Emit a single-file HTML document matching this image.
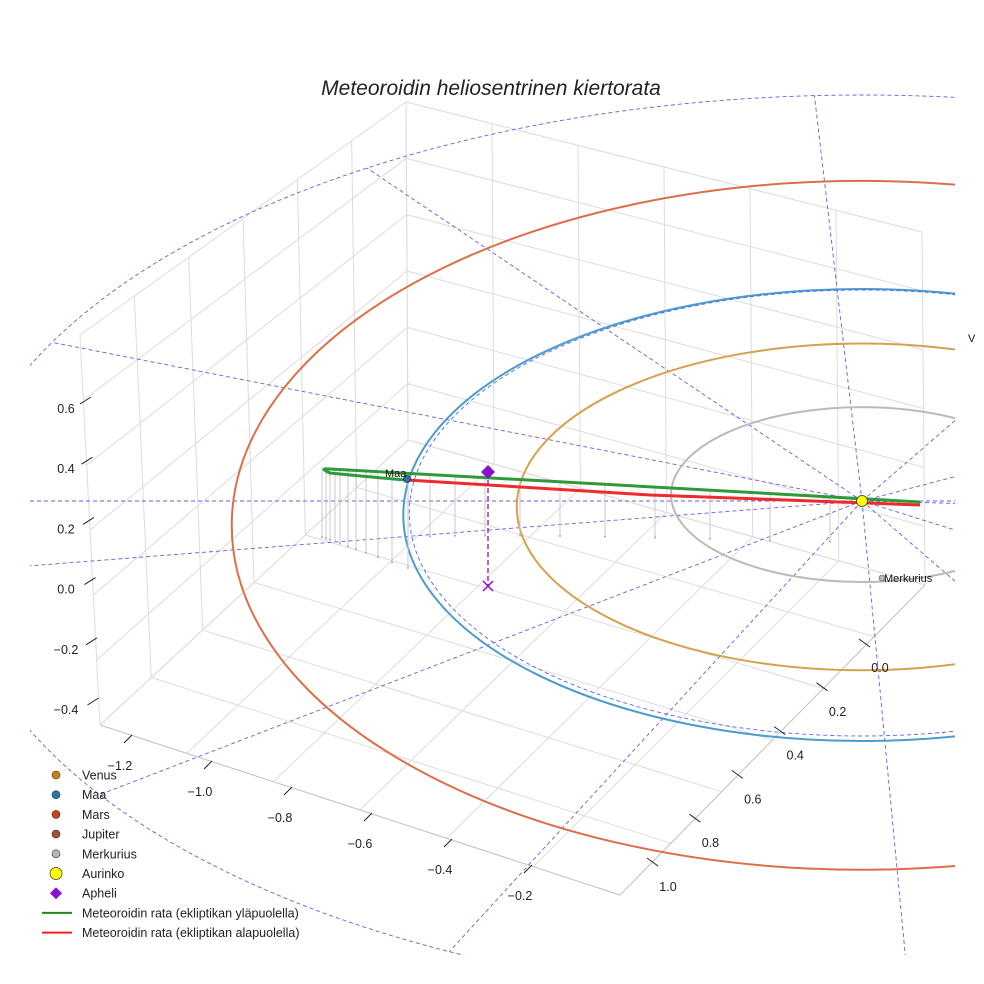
<!DOCTYPE html>
<html><head><meta charset="utf-8"><style>
body{margin:0;background:#fff}
svg{display:block;font-family:"Liberation Sans",sans-serif}
</style></head><body>
<svg id="c" width="984" height="984" viewBox="0 0 984 984">
<defs><clipPath id="clp"><rect x="30" y="90" width="925" height="865"/></clipPath></defs>
<text x="491" y="95" text-anchor="middle" font-size="21" font-style="italic" fill="#222">Meteoroidin heliosentrinen kiertorata</text>
<g id="grid"></g>
<g id="plot" clip-path="url(#clp)"></g>
<g id="ticks"></g>
<g id="legend"></g>
</svg>
<script>
const planetNames=["Merkurius","Venus","Maa","Mars"];
const planetRadii=[0.387,0.723,1.0,1.524];
const planetColors=["#c0b8b4","#d4a24c","#4a9ccc","#dd6f48"];
const zTicks=[0.6,0.4,0.2,0.0,-0.2,-0.4];
const xTicks=[-1.2,-1.0,-0.8,-0.6,-0.4,-0.2];
const yTicks=[0.0,0.2,0.4,0.6,0.8,1.0];
const legendLabels=["Venus","Maa","Mars","Jupiter","Merkurius","Aurinko","Apheli","Meteoroidin rata (ekliptikan yläpuolella)","Meteoroidin rata (ekliptikan alapuolella)"];
const dropX=[322,326,330,335,340,348,356,366,378,392,408,430,455,485,520,560,605,655,710,770,830];

const NS="http://www.w3.org/2000/svg";
function mk(parent,tag,attrs){const e=document.createElementNS(NS,tag);for(const k in attrs)e.setAttribute(k,attrs[k]);parent.appendChild(e);return e;}
const sun={x:862,y:501};
function rx(r){return 500*r/(1+0.09*r*r);}
function ry(r){return 226*r;}
function cy(r){return 477+50*r-12*r*r;}
const grid=document.getElementById('grid'),plot=document.getElementById('plot'),ticks=document.getElementById('ticks'),leg=document.getElementById('legend');

// box grid
const BB=[408,440],BT=[406,102],LB=[100,725],LT=[80,335],RB=[925,585],RT=[922,232],FB=[620,895];
function lerp(a,b,t){return [a[0]+(b[0]-a[0])*t,a[1]+(b[1]-a[1])*t];}
function gl(p,q,c){const l=mk(grid,'line',{x1:p[0],y1:p[1],x2:q[0],y2:q[1],stroke:c||'#dcdcdc','stroke-width':1});}
for(let i=0;i<=6;i++){const t=i/6;gl(lerp(BB,LB,t),lerp(BT,LT,t));gl(lerp(BB,RB,t),lerp(BT,RT,t));gl(lerp(BB,LB,t),lerp(RB,FB,t));gl(lerp(BB,RB,t),lerp(LB,FB,t));}
for(let i=0;i<=6;i++){const t=i/6;gl(lerp(LB,LT,t),lerp(BB,BT,t));gl(lerp(BB,BT,t),lerp(RB,RT,t));}
gl(LB,FB,'#c4c4c4');gl(FB,RB,'#c4c4c4');

// dashed reference ellipse and radials
const bigCx=862,bigRx=909,bigRy=453,bigCy=548;
let e=mk(plot,'ellipse',{cx:bigCx,cy:bigCy,rx:bigRx,ry:bigRy,fill:'none',stroke:'#6a5ae8','stroke-width':0.9,'stroke-dasharray':'4 3'});

for(let a=27;a<360;a+=30){const r=a*Math.PI/180;const l=mk(plot,'line',{x1:sun.x,y1:sun.y,x2:bigCx+bigRx*Math.cos(r),y2:bigCy+bigRy*Math.sin(r),stroke:'#6a5ae8','stroke-width':0.9,'stroke-dasharray':'4 3'});}
let hl=mk(plot,'line',{x1:30,y1:501,x2:955,y2:501,stroke:'#6a5ae8','stroke-width':0.9,'stroke-dasharray':'4 3'});


// planet orbits
planetRadii.forEach((r,i)=>{
 const o=mk(plot,'ellipse',{cx:sun.x,cy:cy(r),rx:rx(r),ry:ry(r),fill:'none',stroke:planetColors[i],'stroke-width':2});
 
});
let ed=mk(plot,'ellipse',{cx:sun.x,cy:cy(1)-2,rx:rx(1)-6,ry:ry(1)-3,fill:'none',stroke:'#4a6ae8','stroke-width':0.9,'stroke-dasharray':'4 3'});


// drop lines
function greenY(x){const t=(x-322)/(920-322);return 467+35*t;}
dropX.forEach((x,i)=>{const y0=greenY(x);const len=x<410?70+(x-322)*0.3:85-i*2;const l=mk(plot,'line',{x1:x,y1:y0,x2:x,y2:y0+len,stroke:'#c8c8c8','stroke-width':1});mk(plot,'circle',{cx:x,cy:y0+len,r:1,fill:'#aaa'});});

// meteoroid orbit
let g=mk(plot,'path',{d:'M920,502 L600,484 Q380,472 330,469 Q318,468 330,473 Q380,478 407,480',fill:'none',stroke:'#2e9a3a','stroke-width':3});

let rd=mk(plot,'path',{d:'M407,480 L650,495 L920,505',fill:'none',stroke:'#ee2a2a','stroke-width':3});


// aphelion
let ap=mk(plot,'line',{x1:488,y1:472,x2:488,y2:586,stroke:'#8a10c8','stroke-width':1.3,'stroke-dasharray':'5 3'});
let apd=mk(plot,'path',{d:'M488,465 L495,472 L488,479 L481,472 Z',fill:'#8a10d0'});
let ax=mk(plot,'path',{d:'M483,581 L493,591 M493,581 L483,591',stroke:'#8a10d0','stroke-width':1.5});

// bodies
let maa=mk(plot,'circle',{cx:407,cy:479,r:3.5,fill:'#1f77b4',stroke:'#222','stroke-width':0.8});
let ml=mk(plot,'text',{x:385,y:477,'font-size':11,fill:'#111'});ml.textContent='Maa';
let mer=mk(plot,'circle',{cx:882,cy:578,r:3,fill:'#bdb5b0',stroke:'#666','stroke-width':0.6});
let mel=mk(plot,'text',{x:884,y:582,'font-size':11,fill:'#111'});mel.textContent='Merkurius';
let su=mk(plot,'circle',{cx:sun.x,cy:sun.y,r:5.5,fill:'#ffff00',stroke:'#333','stroke-width':0.8});
let vl=mk(ticks,'text',{x:968,y:342,'font-size':11,fill:'#111'});vl.textContent='V';

// ticks
zTicks.forEach((v,i)=>{const y=408+(0.6-v)/0.2*60.2;const l=mk(ticks,'line',{x1:80+i*1.5,y1:y-4,x2:91+i*1.5,y2:y-11,stroke:'#222','stroke-width':1});const t=mk(ticks,'text',{x:66,y:y+5,'font-size':12.5,fill:'#222','text-anchor':'middle'});t.textContent=v.toFixed(1).replace('-','−');});
xTicks.forEach((v,i)=>{const k=(v+1.2)/0.2;const x=120+k*80,y=765+k*26;const l=mk(ticks,'line',{x1:x+4,y1:y-22,x2:x+12,y2:y-30,stroke:'#222','stroke-width':1});const t=mk(ticks,'text',{x:x,y:y+5,'font-size':12.5,fill:'#222','text-anchor':'middle'});t.textContent=v.toFixed(1).replace('-','−');});
yTicks.forEach((v,i)=>{const k=v/0.2;const x=880-k*42.4,y=667+k*43.8;const l=mk(ticks,'line',{x1:x-21,y1:y-28,x2:x-10,y2:y-20,stroke:'#222','stroke-width':1});const t=mk(ticks,'text',{x:x,y:y+5,'font-size':12.5,fill:'#222','text-anchor':'middle'});t.textContent=v.toFixed(1);});

// legend
const legMark=[['c','#c87f0e'],['c','#1f77b4'],['c','#c8441a'],['c','#a0522d'],['c','#bdb5b0'],['sun','#ffff00'],['d','#8a10d0'],['l','#1a8a1a'],['l','#ee2020']];
legendLabels.forEach((s,i)=>{const y=775+i*19.7;const m=legMark[i];let el;
 if(m[0]=='c')el=mk(leg,'circle',{cx:56,cy:y,r:4,fill:m[1],stroke:'#333','stroke-width':0.6});
 else if(m[0]=='sun')el=mk(leg,'circle',{cx:56,cy:y,r:6,fill:m[1],stroke:'#333','stroke-width':0.7});
 else if(m[0]=='d')el=mk(leg,'path',{d:`M56,${y-6} L62,${y} L56,${y+6} L50,${y} Z`,fill:m[1]});
 else el=mk(leg,'line',{x1:42,y1:y,x2:72,y2:y,stroke:m[1],'stroke-width':2});
 
 const t=mk(leg,'text',{x:82,y:y+4.5,'font-size':12.5,fill:'#222'});t.textContent=s;});
</script>
</body></html>
